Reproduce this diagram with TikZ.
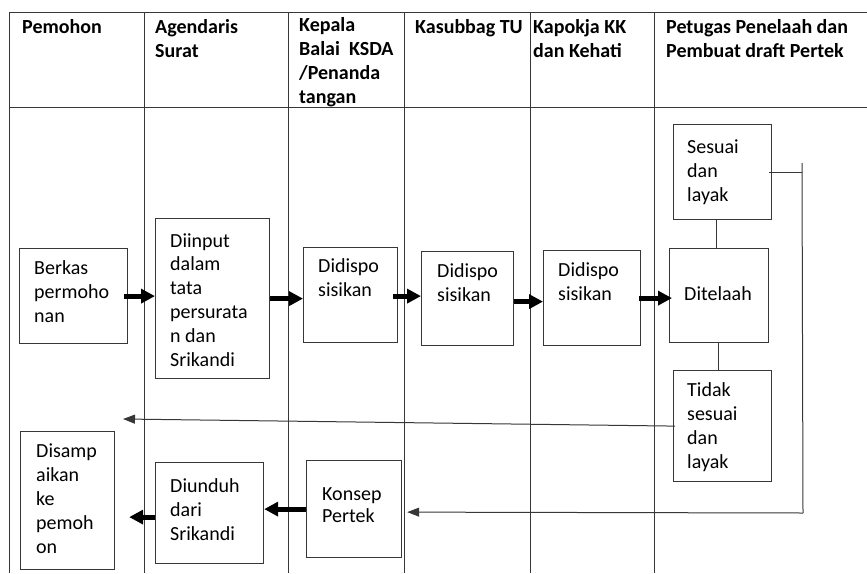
\documentclass[tikz,border=0pt]{standalone}
\usepackage{fontspec}
\setmainfont{Carlito}
\usetikzlibrary{arrows.meta,calc}
\definecolor{ln}{RGB}{55,55,55}
\tikzset{
  x=1pt,y=-1pt,
  grid/.style={draw=ln,line width=1pt},
  box/.style={draw=ln,line width=1.2pt,rectangle,inner sep=0,anchor=north west},
  txt/.style={inner sep=0,align=left,anchor=base west,text=black,font=\fontsize{20}{23.8}\selectfont},
  head/.style={txt,font=\fontsize{20}{23.8}\selectfont\bfseries},
  thickarrow/.style={draw=black,line width=5pt,-{Triangle[length=14pt,width=14pt]}},
  thinarrow/.style={draw=ln,line width=1pt,-{Triangle[length=12pt,width=9pt]}},
  thinline/.style={draw=ln,line width=1pt}
}
\begin{document}
\begin{tikzpicture}
\useasboundingbox (0,0) rectangle (867,573);
% table
\draw[grid] (9,12) -- (867,12);
\draw[grid] (9,107) -- (867,107);
\foreach \cx in {9,144,288,404,530,654} \draw[grid] (\cx,12) -- (\cx,573);
% headers (anchored at the baseline of their last line)
\node[head] (h1) at (22,33) {Pemohon};
\node[head] (h2) at (155,57) {Agendaris\\Surat};
\node[head] (h3) at (299,103) {Kepala\\Balai\ \ KSDA\\/Penanda\\tangan};
\node[head] (h4) at (415,33) {Kasubbag TU};
\node[head] (h5) at (533,57) {Kapokja KK\\dan Kehati};
\node[head] (h6) at (666,57) {Petugas Penelaah dan\\Pembuat draft Pertek};
% boxes
\node[box,minimum width=108pt,minimum height=95pt] (berkas) at (19,248) {};
\node[box,minimum width=114pt,minimum height=160pt] (diinput) at (155,218) {};
\node[box,minimum width=94pt,minimum height=95pt] (dd1) at (303,247) {};
\node[box,minimum width=92pt,minimum height=94pt] (dd2) at (421,251) {};
\node[box,minimum width=97pt,minimum height=95pt] (dd3) at (543,250) {};
\node[box,minimum width=99pt,minimum height=94pt] (telaah) at (669,248) {};
\node[box,minimum width=98pt,minimum height=95pt] (sesuai) at (673,124) {};
\node[box,minimum width=98pt,minimum height=111pt] (tidak) at (673,370) {};
\node[box,minimum width=94pt,minimum height=138pt] (disamp) at (20,431) {};
\node[box,minimum width=108pt,minimum height=101pt] (unduh) at (155,462) {};
\node[box,minimum width=95pt,minimum height=97pt] (konsep) at (306,460) {};
% box texts (anchored at the baseline of their last line)
\node[txt] (t1) at (34,322) {Berkas\\permoho\\nan};
\node[txt] (t2) at (170,366) {Diinput\\dalam\\tata\\persurata\\n dan\\Srikandi};
\node[txt] (t3) at (318,296) {Didispo\\sisikan};
\node[txt] (t4) at (437,301) {Didispo\\sisikan};
\node[txt] (t5) at (558,300) {Didispo\\sisikan};
\node[txt] (t6) at (684,300) {Ditelaah};
\node[txt] (t7) at (687,201) {Sesuai\\dan\\layak};
\node[txt] (t8) at (687,468) {Tidak\\sesuai\\dan\\layak};
\node[txt] (t9) at (36,553) {Disamp\\aikan\\ke\\pemoh\\on};
\node[txt] (t10) at (170,540) {Diunduh\\dari\\Srikandi};
\node[txt,font=\fontsize{20}{22}\selectfont] (t11) at (322,522) {Konsep\\Pertek};
% coordinates
\coordinate (rtop) at (802,163);
\coordinate (rbot) at (803,513);
\coordinate (ret) at (123,419);
% thick arrows
\draw[thickarrow] ([xshift=-4pt]berkas.east) -- (berkas.east -| diinput.west);
\draw[thickarrow] (diinput.east) -- (diinput.east -| dd1.west);
\draw[thickarrow] ([xshift=-5pt,yshift=-1pt]dd1.east) -- ([yshift=-1pt]dd1.east -| dd2.west);
\draw[thickarrow] ([yshift=-3pt]dd2.east) -- ([yshift=-3pt]dd2.east -| dd3.west);
\draw[thickarrow] ([xshift=-2pt]dd3.east) -- ([xshift=3pt]dd3.east -| telaah.west);
\draw[thickarrow] (konsep.west) -- (konsep.west -| unduh.east);
\draw[thickarrow,shorten >=14pt] ([yshift=-4pt]unduh.west) -- ([yshift=-4pt]unduh.west -| disamp.east);
% thin connectors
\draw[thinline] ([xshift=-3pt]telaah.north) -- ([xshift=-3pt]telaah.north |- sesuai.south);
\draw[thinline] ([xshift=-1pt]telaah.south) -- ([xshift=-1pt]telaah.south |- tidak.north);
\draw[thinline] ([xshift=-3pt]sesuai.east) -- (sesuai.east -| rtop);
\draw[thinline] (rtop) -- (rbot);
\draw[thinarrow,shorten >=5pt] (rbot) -- ([yshift=-3pt]konsep.east);
\draw[thinarrow] ([xshift=2pt]tidak.west) -- (ret);
\end{tikzpicture}
\end{document}
